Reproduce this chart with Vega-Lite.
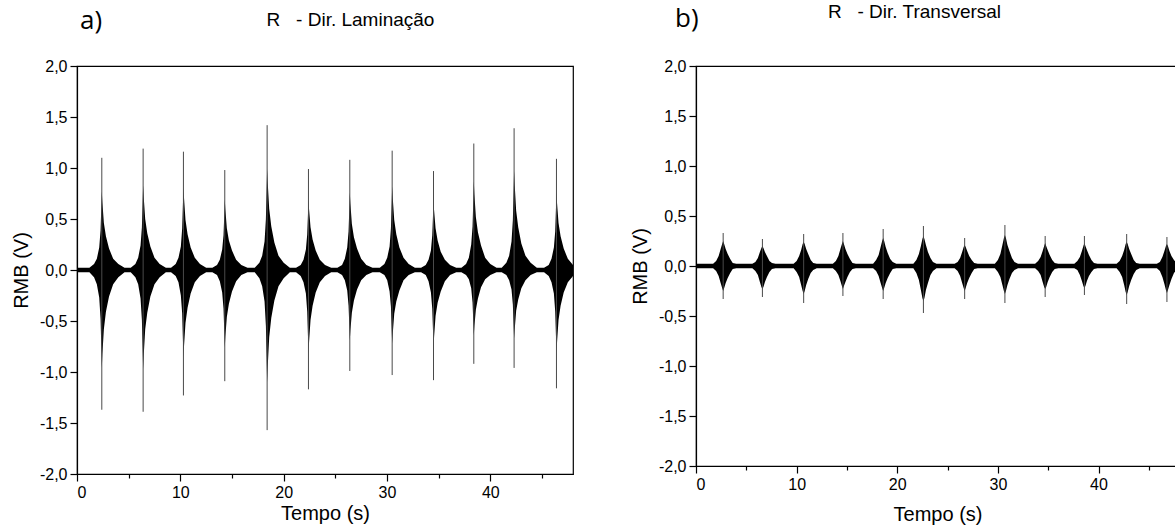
{
  "$schema": "https://vega.github.io/schema/vega-lite/v6.json",
  "padding": {"left": 10, "top": 1, "right": 0, "bottom": 0},
  "background": "white",
  "spacing": 55,
  "config": {
    "font": "Liberation Sans",
    "locale": {"number": {"decimal": ",", "thousands": ".", "grouping": [3], "currency": ["", ""], "minus": "-"}},
    "view": {"stroke": "#000", "strokeWidth": 1.2},
    "axis": {"labelFont": "Liberation Sans", "titleFont": "Liberation Sans", "labelFontSize": 16, "titleFontSize": 20, "titleFontWeight": "normal", "labelColor": "#000", "titleColor": "#000", "domainColor": "#000", "tickColor": "#000", "grid": false, "domainWidth": 1.2, "tickWidth": 1.2, "labelPadding": 3},
    "title": {"font": "Open Sans", "fontSize": 26, "fontWeight": "normal", "color": "#000", "anchor": "start", "frame": "group"}
  },
  "datasets": {
    "a_env": [
      {"t":0,"hi":0.022,"lo":-0.022},
      {"t":1.2,"hi":0.022,"lo":-0.022},{"t":1.65,"hi":0.06,"lo":-0.07},{"t":1.92,"hi":0.11,"lo":-0.14},{"t":2.15,"hi":0.22,"lo":-0.27},{"t":2.28,"hi":0.39,"lo":-0.48},{"t":2.35,"hi":0.61,"lo":-0.75},{"t":2.4,"hi":0.77,"lo":-0.96},{"t":2.46,"hi":0.66,"lo":-0.82},{"t":2.6,"hi":0.46,"lo":-0.58},{"t":2.8,"hi":0.33,"lo":-0.41},{"t":3.1,"hi":0.21,"lo":-0.26},{"t":3.5,"hi":0.11,"lo":-0.14},{"t":4.0,"hi":0.06,"lo":-0.07},{"t":4.6,"hi":0.022,"lo":-0.022},
      {"t":5.2,"hi":0.022,"lo":-0.022},{"t":5.65,"hi":0.06,"lo":-0.07},{"t":5.92,"hi":0.12,"lo":-0.14},{"t":6.15,"hi":0.24,"lo":-0.28},{"t":6.28,"hi":0.42,"lo":-0.49},{"t":6.35,"hi":0.65,"lo":-0.76},{"t":6.4,"hi":0.83,"lo":-0.97},{"t":6.46,"hi":0.71,"lo":-0.83},{"t":6.6,"hi":0.5,"lo":-0.58},{"t":6.8,"hi":0.36,"lo":-0.42},{"t":7.1,"hi":0.23,"lo":-0.26},{"t":7.5,"hi":0.12,"lo":-0.14},{"t":8.0,"hi":0.06,"lo":-0.07},{"t":8.6,"hi":0.022,"lo":-0.022},
      {"t":9.1,"hi":0.022,"lo":-0.022},{"t":9.55,"hi":0.06,"lo":-0.06},{"t":9.82,"hi":0.12,"lo":-0.12},{"t":10.05,"hi":0.23,"lo":-0.25},{"t":10.18,"hi":0.41,"lo":-0.43},{"t":10.25,"hi":0.64,"lo":-0.68},{"t":10.3,"hi":0.81,"lo":-0.86},{"t":10.36,"hi":0.7,"lo":-0.74},{"t":10.5,"hi":0.49,"lo":-0.52},{"t":10.7,"hi":0.35,"lo":-0.37},{"t":11.0,"hi":0.22,"lo":-0.23},{"t":11.4,"hi":0.12,"lo":-0.12},{"t":11.9,"hi":0.06,"lo":-0.06},{"t":12.5,"hi":0.022,"lo":-0.022},
      {"t":13.1,"hi":0.022,"lo":-0.022},{"t":13.55,"hi":0.05,"lo":-0.05},{"t":13.82,"hi":0.1,"lo":-0.11},{"t":14.05,"hi":0.2,"lo":-0.22},{"t":14.18,"hi":0.34,"lo":-0.38},{"t":14.25,"hi":0.54,"lo":-0.6},{"t":14.3,"hi":0.69,"lo":-0.76},{"t":14.36,"hi":0.59,"lo":-0.65},{"t":14.5,"hi":0.41,"lo":-0.46},{"t":14.7,"hi":0.29,"lo":-0.33},{"t":15.0,"hi":0.19,"lo":-0.21},{"t":15.4,"hi":0.1,"lo":-0.11},{"t":15.9,"hi":0.05,"lo":-0.05},{"t":16.5,"hi":0.022,"lo":-0.022},
      {"t":17.2,"hi":0.022,"lo":-0.022},{"t":17.65,"hi":0.07,"lo":-0.08},{"t":17.92,"hi":0.14,"lo":-0.16},{"t":18.15,"hi":0.28,"lo":-0.31},{"t":18.28,"hi":0.5,"lo":-0.55},{"t":18.35,"hi":0.78,"lo":-0.86},{"t":18.4,"hi":0.99,"lo":-1.1},{"t":18.46,"hi":0.85,"lo":-0.94},{"t":18.6,"hi":0.6,"lo":-0.66},{"t":18.8,"hi":0.43,"lo":-0.47},{"t":19.1,"hi":0.27,"lo":-0.3},{"t":19.5,"hi":0.14,"lo":-0.16},{"t":20.0,"hi":0.07,"lo":-0.08},{"t":20.6,"hi":0.022,"lo":-0.022},
      {"t":21.2,"hi":0.022,"lo":-0.022},{"t":21.65,"hi":0.05,"lo":-0.06},{"t":21.92,"hi":0.1,"lo":-0.12},{"t":22.15,"hi":0.2,"lo":-0.23},{"t":22.28,"hi":0.35,"lo":-0.41},{"t":22.35,"hi":0.54,"lo":-0.64},{"t":22.4,"hi":0.69,"lo":-0.82},{"t":22.46,"hi":0.59,"lo":-0.7},{"t":22.6,"hi":0.42,"lo":-0.49},{"t":22.8,"hi":0.3,"lo":-0.35},{"t":23.1,"hi":0.19,"lo":-0.22},{"t":23.5,"hi":0.1,"lo":-0.12},{"t":24.0,"hi":0.05,"lo":-0.06},{"t":24.6,"hi":0.022,"lo":-0.022},
      {"t":25.2,"hi":0.022,"lo":-0.022},{"t":25.65,"hi":0.05,"lo":-0.05},{"t":25.92,"hi":0.11,"lo":-0.1},{"t":26.15,"hi":0.22,"lo":-0.2},{"t":26.28,"hi":0.38,"lo":-0.35},{"t":26.35,"hi":0.59,"lo":-0.54},{"t":26.4,"hi":0.76,"lo":-0.69},{"t":26.46,"hi":0.65,"lo":-0.59},{"t":26.6,"hi":0.45,"lo":-0.42},{"t":26.8,"hi":0.32,"lo":-0.3},{"t":27.1,"hi":0.21,"lo":-0.19},{"t":27.5,"hi":0.11,"lo":-0.1},{"t":28.0,"hi":0.05,"lo":-0.05},{"t":28.6,"hi":0.022,"lo":-0.022},
      {"t":29.3,"hi":0.022,"lo":-0.022},{"t":29.75,"hi":0.06,"lo":-0.05},{"t":30.02,"hi":0.12,"lo":-0.1},{"t":30.25,"hi":0.23,"lo":-0.21},{"t":30.38,"hi":0.41,"lo":-0.36},{"t":30.45,"hi":0.64,"lo":-0.57},{"t":30.5,"hi":0.82,"lo":-0.72},{"t":30.56,"hi":0.7,"lo":-0.62},{"t":30.7,"hi":0.49,"lo":-0.43},{"t":30.9,"hi":0.35,"lo":-0.31},{"t":31.2,"hi":0.22,"lo":-0.2},{"t":31.6,"hi":0.12,"lo":-0.1},{"t":32.1,"hi":0.06,"lo":-0.05},{"t":32.7,"hi":0.022,"lo":-0.022},
      {"t":33.3,"hi":0.022,"lo":-0.022},{"t":33.75,"hi":0.05,"lo":-0.05},{"t":34.02,"hi":0.1,"lo":-0.11},{"t":34.25,"hi":0.19,"lo":-0.22},{"t":34.38,"hi":0.34,"lo":-0.38},{"t":34.45,"hi":0.53,"lo":-0.59},{"t":34.5,"hi":0.68,"lo":-0.76},{"t":34.56,"hi":0.58,"lo":-0.65},{"t":34.7,"hi":0.41,"lo":-0.45},{"t":34.9,"hi":0.29,"lo":-0.32},{"t":35.2,"hi":0.18,"lo":-0.21},{"t":35.6,"hi":0.1,"lo":-0.11},{"t":36.1,"hi":0.05,"lo":-0.05},{"t":36.7,"hi":0.022,"lo":-0.022},
      {"t":37.2,"hi":0.022,"lo":-0.022},{"t":37.65,"hi":0.06,"lo":-0.05},{"t":37.92,"hi":0.12,"lo":-0.09},{"t":38.15,"hi":0.25,"lo":-0.18},{"t":38.28,"hi":0.43,"lo":-0.32},{"t":38.35,"hi":0.68,"lo":-0.51},{"t":38.4,"hi":0.87,"lo":-0.64},{"t":38.46,"hi":0.74,"lo":-0.55},{"t":38.6,"hi":0.52,"lo":-0.39},{"t":38.8,"hi":0.37,"lo":-0.28},{"t":39.1,"hi":0.24,"lo":-0.17},{"t":39.5,"hi":0.12,"lo":-0.09},{"t":40.0,"hi":0.06,"lo":-0.05},{"t":40.6,"hi":0.022,"lo":-0.022},
      {"t":41.1,"hi":0.022,"lo":-0.022},{"t":41.55,"hi":0.07,"lo":-0.05},{"t":41.82,"hi":0.14,"lo":-0.1},{"t":42.05,"hi":0.28,"lo":-0.19},{"t":42.18,"hi":0.49,"lo":-0.34},{"t":42.25,"hi":0.76,"lo":-0.53},{"t":42.3,"hi":0.97,"lo":-0.67},{"t":42.36,"hi":0.83,"lo":-0.58},{"t":42.5,"hi":0.58,"lo":-0.4},{"t":42.7,"hi":0.42,"lo":-0.29},{"t":43.0,"hi":0.26,"lo":-0.18},{"t":43.4,"hi":0.14,"lo":-0.1},{"t":43.9,"hi":0.07,"lo":-0.05},{"t":44.5,"hi":0.022,"lo":-0.022},
      {"t":45.2,"hi":0.022,"lo":-0.022},{"t":45.65,"hi":0.05,"lo":-0.06},{"t":45.92,"hi":0.11,"lo":-0.12},{"t":46.15,"hi":0.22,"lo":-0.23},{"t":46.28,"hi":0.38,"lo":-0.41},{"t":46.35,"hi":0.6,"lo":-0.64},{"t":46.4,"hi":0.76,"lo":-0.81},{"t":46.46,"hi":0.65,"lo":-0.7},{"t":46.6,"hi":0.46,"lo":-0.49},{"t":46.8,"hi":0.33,"lo":-0.35},{"t":47.1,"hi":0.21,"lo":-0.22},{"t":47.5,"hi":0.11,"lo":-0.12},{"t":48.0,"hi":0.05,"lo":-0.06}
    ],
    "a_spk": [
      {"t":2.4,"hi":1.10,"lo":-1.37},{"t":6.4,"hi":1.19,"lo":-1.39},{"t":10.3,"hi":1.16,"lo":-1.23},{"t":14.3,"hi":0.98,"lo":-1.09},{"t":18.4,"hi":1.42,"lo":-1.57},{"t":22.4,"hi":0.99,"lo":-1.17},{"t":26.4,"hi":1.08,"lo":-0.99},{"t":30.5,"hi":1.17,"lo":-1.03},{"t":34.5,"hi":0.97,"lo":-1.08},{"t":38.4,"hi":1.24,"lo":-0.92},{"t":42.3,"hi":1.39,"lo":-0.96},{"t":46.4,"hi":1.09,"lo":-1.16}
    ],
    "b_env": [
      {"t":0,"hi":0.022,"lo":-0.022},
      {"t":1.7,"hi":0.022,"lo":-0.022},{"t":2.0,"hi":0.05,"lo":-0.05},{"t":2.25,"hi":0.1,"lo":-0.1},{"t":2.45,"hi":0.17,"lo":-0.17},{"t":2.6,"hi":0.22,"lo":-0.22},{"t":2.7,"hi":0.25,"lo":-0.25},{"t":2.8,"hi":0.22,"lo":-0.22},{"t":2.95,"hi":0.17,"lo":-0.17},{"t":3.15,"hi":0.12,"lo":-0.12},{"t":3.4,"hi":0.07,"lo":-0.07},{"t":3.65,"hi":0.03,"lo":-0.03},{"t":4.0,"hi":0.022,"lo":-0.022},
      {"t":5.6,"hi":0.022,"lo":-0.022},{"t":5.9,"hi":0.04,"lo":-0.05},{"t":6.15,"hi":0.08,"lo":-0.09},{"t":6.35,"hi":0.14,"lo":-0.16},{"t":6.5,"hi":0.18,"lo":-0.21},{"t":6.6,"hi":0.2,"lo":-0.23},{"t":6.7,"hi":0.18,"lo":-0.21},{"t":6.85,"hi":0.14,"lo":-0.16},{"t":7.05,"hi":0.1,"lo":-0.11},{"t":7.3,"hi":0.05,"lo":-0.06},{"t":7.55,"hi":0.03,"lo":-0.03},{"t":7.9,"hi":0.022,"lo":-0.022},
      {"t":9.7,"hi":0.022,"lo":-0.022},{"t":10.0,"hi":0.05,"lo":-0.06},{"t":10.25,"hi":0.1,"lo":-0.11},{"t":10.45,"hi":0.16,"lo":-0.19},{"t":10.6,"hi":0.22,"lo":-0.25},{"t":10.7,"hi":0.24,"lo":-0.28},{"t":10.8,"hi":0.22,"lo":-0.25},{"t":10.95,"hi":0.17,"lo":-0.19},{"t":11.15,"hi":0.12,"lo":-0.13},{"t":11.4,"hi":0.06,"lo":-0.07},{"t":11.65,"hi":0.03,"lo":-0.04},{"t":12.0,"hi":0.022,"lo":-0.022},
      {"t":13.6,"hi":0.022,"lo":-0.022},{"t":13.9,"hi":0.05,"lo":-0.05},{"t":14.15,"hi":0.1,"lo":-0.09},{"t":14.35,"hi":0.17,"lo":-0.15},{"t":14.5,"hi":0.22,"lo":-0.2},{"t":14.6,"hi":0.25,"lo":-0.23},{"t":14.7,"hi":0.22,"lo":-0.2},{"t":14.85,"hi":0.17,"lo":-0.16},{"t":15.05,"hi":0.12,"lo":-0.11},{"t":15.3,"hi":0.07,"lo":-0.06},{"t":15.55,"hi":0.03,"lo":-0.03},{"t":15.9,"hi":0.022,"lo":-0.022},
      {"t":17.6,"hi":0.022,"lo":-0.022},{"t":17.9,"hi":0.06,"lo":-0.05},{"t":18.15,"hi":0.11,"lo":-0.1},{"t":18.35,"hi":0.19,"lo":-0.17},{"t":18.5,"hi":0.25,"lo":-0.22},{"t":18.6,"hi":0.28,"lo":-0.25},{"t":18.7,"hi":0.25,"lo":-0.22},{"t":18.85,"hi":0.19,"lo":-0.17},{"t":19.05,"hi":0.13,"lo":-0.12},{"t":19.3,"hi":0.07,"lo":-0.07},{"t":19.55,"hi":0.04,"lo":-0.03},{"t":19.9,"hi":0.022,"lo":-0.022},
      {"t":21.6,"hi":0.022,"lo":-0.022},{"t":21.9,"hi":0.06,"lo":-0.07},{"t":22.15,"hi":0.12,"lo":-0.14},{"t":22.35,"hi":0.2,"lo":-0.24},{"t":22.5,"hi":0.27,"lo":-0.32},{"t":22.6,"hi":0.3,"lo":-0.35},{"t":22.7,"hi":0.27,"lo":-0.32},{"t":22.85,"hi":0.21,"lo":-0.24},{"t":23.05,"hi":0.14,"lo":-0.17},{"t":23.3,"hi":0.08,"lo":-0.09},{"t":23.55,"hi":0.04,"lo":-0.05},{"t":23.9,"hi":0.022,"lo":-0.022},
      {"t":25.7,"hi":0.022,"lo":-0.022},{"t":26.0,"hi":0.04,"lo":-0.05},{"t":26.25,"hi":0.08,"lo":-0.1},{"t":26.45,"hi":0.14,"lo":-0.17},{"t":26.6,"hi":0.19,"lo":-0.22},{"t":26.7,"hi":0.21,"lo":-0.25},{"t":26.8,"hi":0.19,"lo":-0.22},{"t":26.95,"hi":0.15,"lo":-0.17},{"t":27.15,"hi":0.1,"lo":-0.12},{"t":27.4,"hi":0.06,"lo":-0.07},{"t":27.65,"hi":0.03,"lo":-0.03},{"t":28.0,"hi":0.022,"lo":-0.022},
      {"t":29.7,"hi":0.022,"lo":-0.022},{"t":30.0,"hi":0.06,"lo":-0.06},{"t":30.25,"hi":0.12,"lo":-0.11},{"t":30.45,"hi":0.21,"lo":-0.19},{"t":30.6,"hi":0.28,"lo":-0.25},{"t":30.7,"hi":0.31,"lo":-0.28},{"t":30.8,"hi":0.28,"lo":-0.25},{"t":30.95,"hi":0.21,"lo":-0.19},{"t":31.15,"hi":0.15,"lo":-0.13},{"t":31.4,"hi":0.08,"lo":-0.07},{"t":31.65,"hi":0.04,"lo":-0.04},{"t":32.0,"hi":0.022,"lo":-0.022},
      {"t":33.7,"hi":0.022,"lo":-0.022},{"t":34.0,"hi":0.05,"lo":-0.05},{"t":34.25,"hi":0.09,"lo":-0.09},{"t":34.45,"hi":0.15,"lo":-0.16},{"t":34.6,"hi":0.2,"lo":-0.21},{"t":34.7,"hi":0.23,"lo":-0.23},{"t":34.8,"hi":0.2,"lo":-0.21},{"t":34.95,"hi":0.16,"lo":-0.16},{"t":35.15,"hi":0.11,"lo":-0.11},{"t":35.4,"hi":0.06,"lo":-0.06},{"t":35.65,"hi":0.03,"lo":-0.03},{"t":36.0,"hi":0.022,"lo":-0.022},
      {"t":37.6,"hi":0.022,"lo":-0.022},{"t":37.9,"hi":0.05,"lo":-0.04},{"t":38.15,"hi":0.09,"lo":-0.09},{"t":38.35,"hi":0.15,"lo":-0.15},{"t":38.5,"hi":0.2,"lo":-0.2},{"t":38.6,"hi":0.23,"lo":-0.22},{"t":38.7,"hi":0.2,"lo":-0.2},{"t":38.85,"hi":0.16,"lo":-0.15},{"t":39.05,"hi":0.11,"lo":-0.1},{"t":39.3,"hi":0.06,"lo":-0.06},{"t":39.55,"hi":0.03,"lo":-0.03},{"t":39.9,"hi":0.022,"lo":-0.022},
      {"t":41.8,"hi":0.022,"lo":-0.022},{"t":42.1,"hi":0.05,"lo":-0.06},{"t":42.35,"hi":0.1,"lo":-0.11},{"t":42.55,"hi":0.16,"lo":-0.19},{"t":42.7,"hi":0.22,"lo":-0.26},{"t":42.8,"hi":0.24,"lo":-0.29},{"t":42.9,"hi":0.22,"lo":-0.26},{"t":43.05,"hi":0.17,"lo":-0.2},{"t":43.25,"hi":0.12,"lo":-0.14},{"t":43.5,"hi":0.06,"lo":-0.08},{"t":43.75,"hi":0.03,"lo":-0.04},{"t":44.1,"hi":0.022,"lo":-0.022},
      {"t":45.8,"hi":0.022,"lo":-0.022},{"t":46.1,"hi":0.04,"lo":-0.05},{"t":46.35,"hi":0.09,"lo":-0.11},{"t":46.55,"hi":0.15,"lo":-0.18},{"t":46.7,"hi":0.2,"lo":-0.24},{"t":46.8,"hi":0.22,"lo":-0.27},{"t":46.9,"hi":0.2,"lo":-0.24},{"t":47.05,"hi":0.15,"lo":-0.19},{"t":47.25,"hi":0.1,"lo":-0.13},{"t":47.5,"hi":0.06,"lo":-0.07},{"t":47.75,"hi":0.03,"lo":-0.04},{"t":48.0,"hi":0.022,"lo":-0.022}
    ],
    "b_spk": [
      {"t":2.7,"hi":0.33,"lo":-0.33},{"t":6.6,"hi":0.27,"lo":-0.31},{"t":10.7,"hi":0.32,"lo":-0.37},{"t":14.6,"hi":0.33,"lo":-0.30},{"t":18.6,"hi":0.37,"lo":-0.33},{"t":22.6,"hi":0.40,"lo":-0.47},{"t":26.7,"hi":0.28,"lo":-0.33},{"t":30.7,"hi":0.41,"lo":-0.37},{"t":34.7,"hi":0.30,"lo":-0.31},{"t":38.6,"hi":0.30,"lo":-0.29},{"t":42.8,"hi":0.32,"lo":-0.38},{"t":46.8,"hi":0.29,"lo":-0.36}
    ]
  },
  "hconcat": [
    {
      "width": 496,
      "height": 408,
      "title": {"text": "a)", "dx": 3, "offset": -24},
      "resolve": {"axis": {"x": "independent"}},
      "layer": [
        {
          "data": {"name": "a_env"},
          "mark": {"type": "area", "color": "#000", "clip": true},
          "encoding": {
            "x": {"field": "t", "type": "quantitative", "scale": {"domain": [0, 48], "nice": false, "zero": false},
              "axis": {"orient": "bottom", "labelFont": "Liberation Sans", "titleFont": "Liberation Sans", "values": [0,5,10,15,20,25,30,35,40,45], "labelExpr": "datum.value % 10 === 0 ? datum.label : ''", "tickSize": {"condition": {"test": "datum.value % 10 === 0", "value": 7}, "value": 4}, "title": "Tempo (s)", "titlePadding": 3}},
            "y": {"field": "hi", "type": "quantitative", "scale": {"domain": [-2, 2], "nice": false, "zero": false},
              "axis": {"labelFont": "Liberation Sans", "titleFont": "Liberation Sans", "values": [-2,-1.75,-1.5,-1.25,-1,-0.75,-0.5,-0.25,0,0.25,0.5,0.75,1,1.25,1.5,1.75,2], "format": ".1f", "labelExpr": "abs(datum.value*2 - round(datum.value*2)) < 0.001 ? datum.label : ''", "tickSize": {"condition": {"test": "abs(datum.value*2 - round(datum.value*2)) < 0.001", "value": 7}, "value": 4}, "title": "RMB (V)", "titlePadding": 8}},
            "y2": {"field": "lo"}
          }
        },
        {
          "data": {"name": "a_spk"},
          "mark": {"type": "rule", "color": "#4a4a4a", "strokeWidth": 1, "clip": true},
          "encoding": {
            "x": {"field": "t", "type": "quantitative", "axis": {"orient": "top", "labels": false, "ticks": false, "domain": false, "title": "R\u00a0\u00a0 - Dir. Laminação", "titleFont": "Liberation Sans", "titleFontSize": 19, "titlePadding": 37, "titleX": 273}},
            "y": {"field": "hi", "type": "quantitative"},
            "y2": {"field": "lo"}
          }
        }
      ]
    },
    {
      "width": 483,
      "height": 400,
      "title": {"text": "b)", "dx": -21, "offset": -30},
      "resolve": {"axis": {"x": "independent"}},
      "layer": [
        {
          "data": {"name": "b_env"},
          "mark": {"type": "area", "color": "#000", "clip": true},
          "encoding": {
            "x": {"field": "t", "type": "quantitative", "scale": {"domain": [0, 48], "nice": false, "zero": false},
              "axis": {"orient": "bottom", "labelFont": "Liberation Sans", "titleFont": "Liberation Sans", "values": [0,5,10,15,20,25,30,35,40,45], "labelExpr": "datum.value % 10 === 0 ? datum.label : ''", "tickSize": {"condition": {"test": "datum.value % 10 === 0", "value": 7}, "value": 4}, "title": "Tempo (s)", "titlePadding": 12}},
            "y": {"field": "hi", "type": "quantitative", "scale": {"domain": [-2, 2], "nice": false, "zero": false},
              "axis": {"labelFont": "Liberation Sans", "titleFont": "Liberation Sans", "values": [-2,-1.75,-1.5,-1.25,-1,-0.75,-0.5,-0.25,0,0.25,0.5,0.75,1,1.25,1.5,1.75,2], "format": ".1f", "labelExpr": "abs(datum.value*2 - round(datum.value*2)) < 0.001 ? datum.label : ''", "tickSize": {"condition": {"test": "abs(datum.value*2 - round(datum.value*2)) < 0.001", "value": 7}, "value": 4}, "title": "RMB (V)", "titlePadding": 8}},
            "y2": {"field": "lo"}
          }
        },
        {
          "data": {"name": "b_spk"},
          "mark": {"type": "rule", "color": "#4a4a4a", "strokeWidth": 1, "clip": true},
          "encoding": {
            "x": {"field": "t", "type": "quantitative", "axis": {"orient": "top", "labels": false, "ticks": false, "domain": false, "title": "R\u00a0\u00a0 - Dir. Transversal", "titleFont": "Liberation Sans", "titleFontSize": 19, "titlePadding": 45, "titleX": 218}},
            "y": {"field": "hi", "type": "quantitative"},
            "y2": {"field": "lo"}
          }
        }
      ]
    }
  ]
}
